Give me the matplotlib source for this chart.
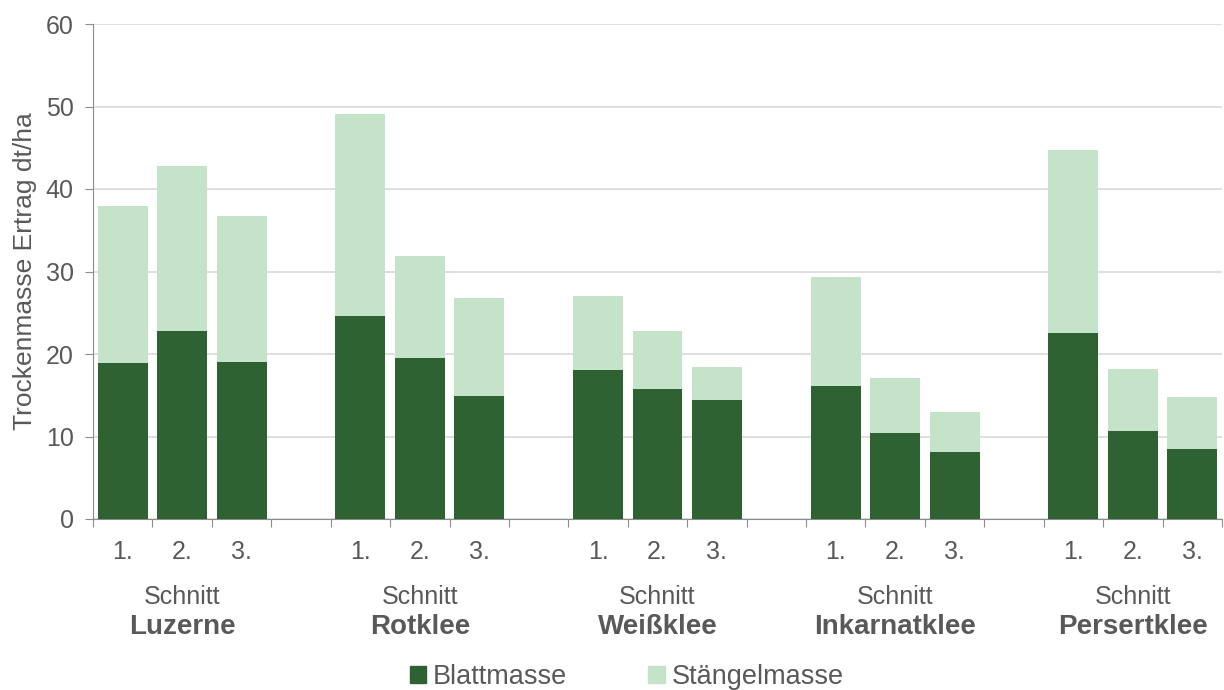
import matplotlib.pyplot as plt
from matplotlib.patches import Patch

plt.rcParams["font.family"] = ["Liberation Sans", "DejaVu Sans"]

# ==========================================================
# Data
# ==========================================================

arten = ["Luzerne", "Rotklee", "Weißklee", "Inkarnatklee", "Persertklee"]
schnitte = ["1.", "2.", "3."]

blattmasse = [
    [18.9, 22.8, 19.0],
    [24.6, 19.5, 14.9],
    [18.1, 15.8, 14.4],
    [16.1, 10.4, 8.1],
    [22.5, 10.7, 8.5],
]

gesamt = [
    [37.9, 42.8, 36.7],
    [49.1, 31.9, 26.8],
    [27.0, 22.8, 18.4],
    [29.3, 17.1, 13.0],
    [44.7, 18.2, 14.8],
]

DUNKEL = "#2e6232"
HELL = "#c4e3c8"
TEXT = "#595959"

# ==========================================================
# Plot
# ==========================================================

fig = plt.figure(figsize=(12.24, 6.9), dpi=100)
ax = fig.add_axes([93 / 1224, 1 - 519 / 690, 1129 / 1224, 495 / 690])

for g, art in enumerate(arten):
    for j, s in enumerate(schnitte):
        x = 4 * g + j
        b = blattmasse[g][j]
        st = gesamt[g][j] - b
        ax.bar(x, b, width=0.84, color=DUNKEL, zorder=3)
        ax.bar(x, st, bottom=b, width=0.84, color=HELL, zorder=3)
        ax.text(x, -4.0, s, ha="center", va="center", fontsize=18, color=TEXT)
    xc = 4 * g + 1
    ax.text(xc, -9.4, "Schnitt", ha="center", va="center", fontsize=18, color=TEXT)
    ax.text(xc, -13.1, art, ha="center", va="center", fontsize=20,
            fontweight="bold", color=TEXT)

ax.set_xlim(-0.5, 18.5)
ax.set_ylim(0, 60)
ax.set_yticks(range(0, 61, 10))
ax.set_xticks([i - 0.5 for i in range(20)])
ax.set_xticklabels([])
ax.tick_params(axis="x", length=6, color="#8c8c8c", direction="out")
ax.tick_params(axis="y", length=6, color="#8c8c8c", labelsize=18,
               labelcolor=TEXT, pad=8)

ax.grid(axis="y", color="#d9d9d9", linewidth=1.2, zorder=0)
for side in ["top", "right"]:
    ax.spines[side].set_visible(False)
for side in ["left", "bottom"]:
    ax.spines[side].set_color("#8c8c8c")

ax.set_ylabel("Trockenmasse Ertrag dt/ha", fontsize=19, color=TEXT, labelpad=6)

handles = [Patch(color=DUNKEL, label="Blattmasse"),
           Patch(color=HELL, label="Stängelmasse")]
fig.legend(handles=handles, loc="center", bbox_to_anchor=(0.512, 1 - 677 / 690),
           ncol=2, frameon=False, fontsize=19.5, labelcolor=TEXT,
           handlelength=0.6, handleheight=0.6, handletextpad=0.25, columnspacing=3,
           borderpad=0)

plt.savefig("out.png", dpi=100)
